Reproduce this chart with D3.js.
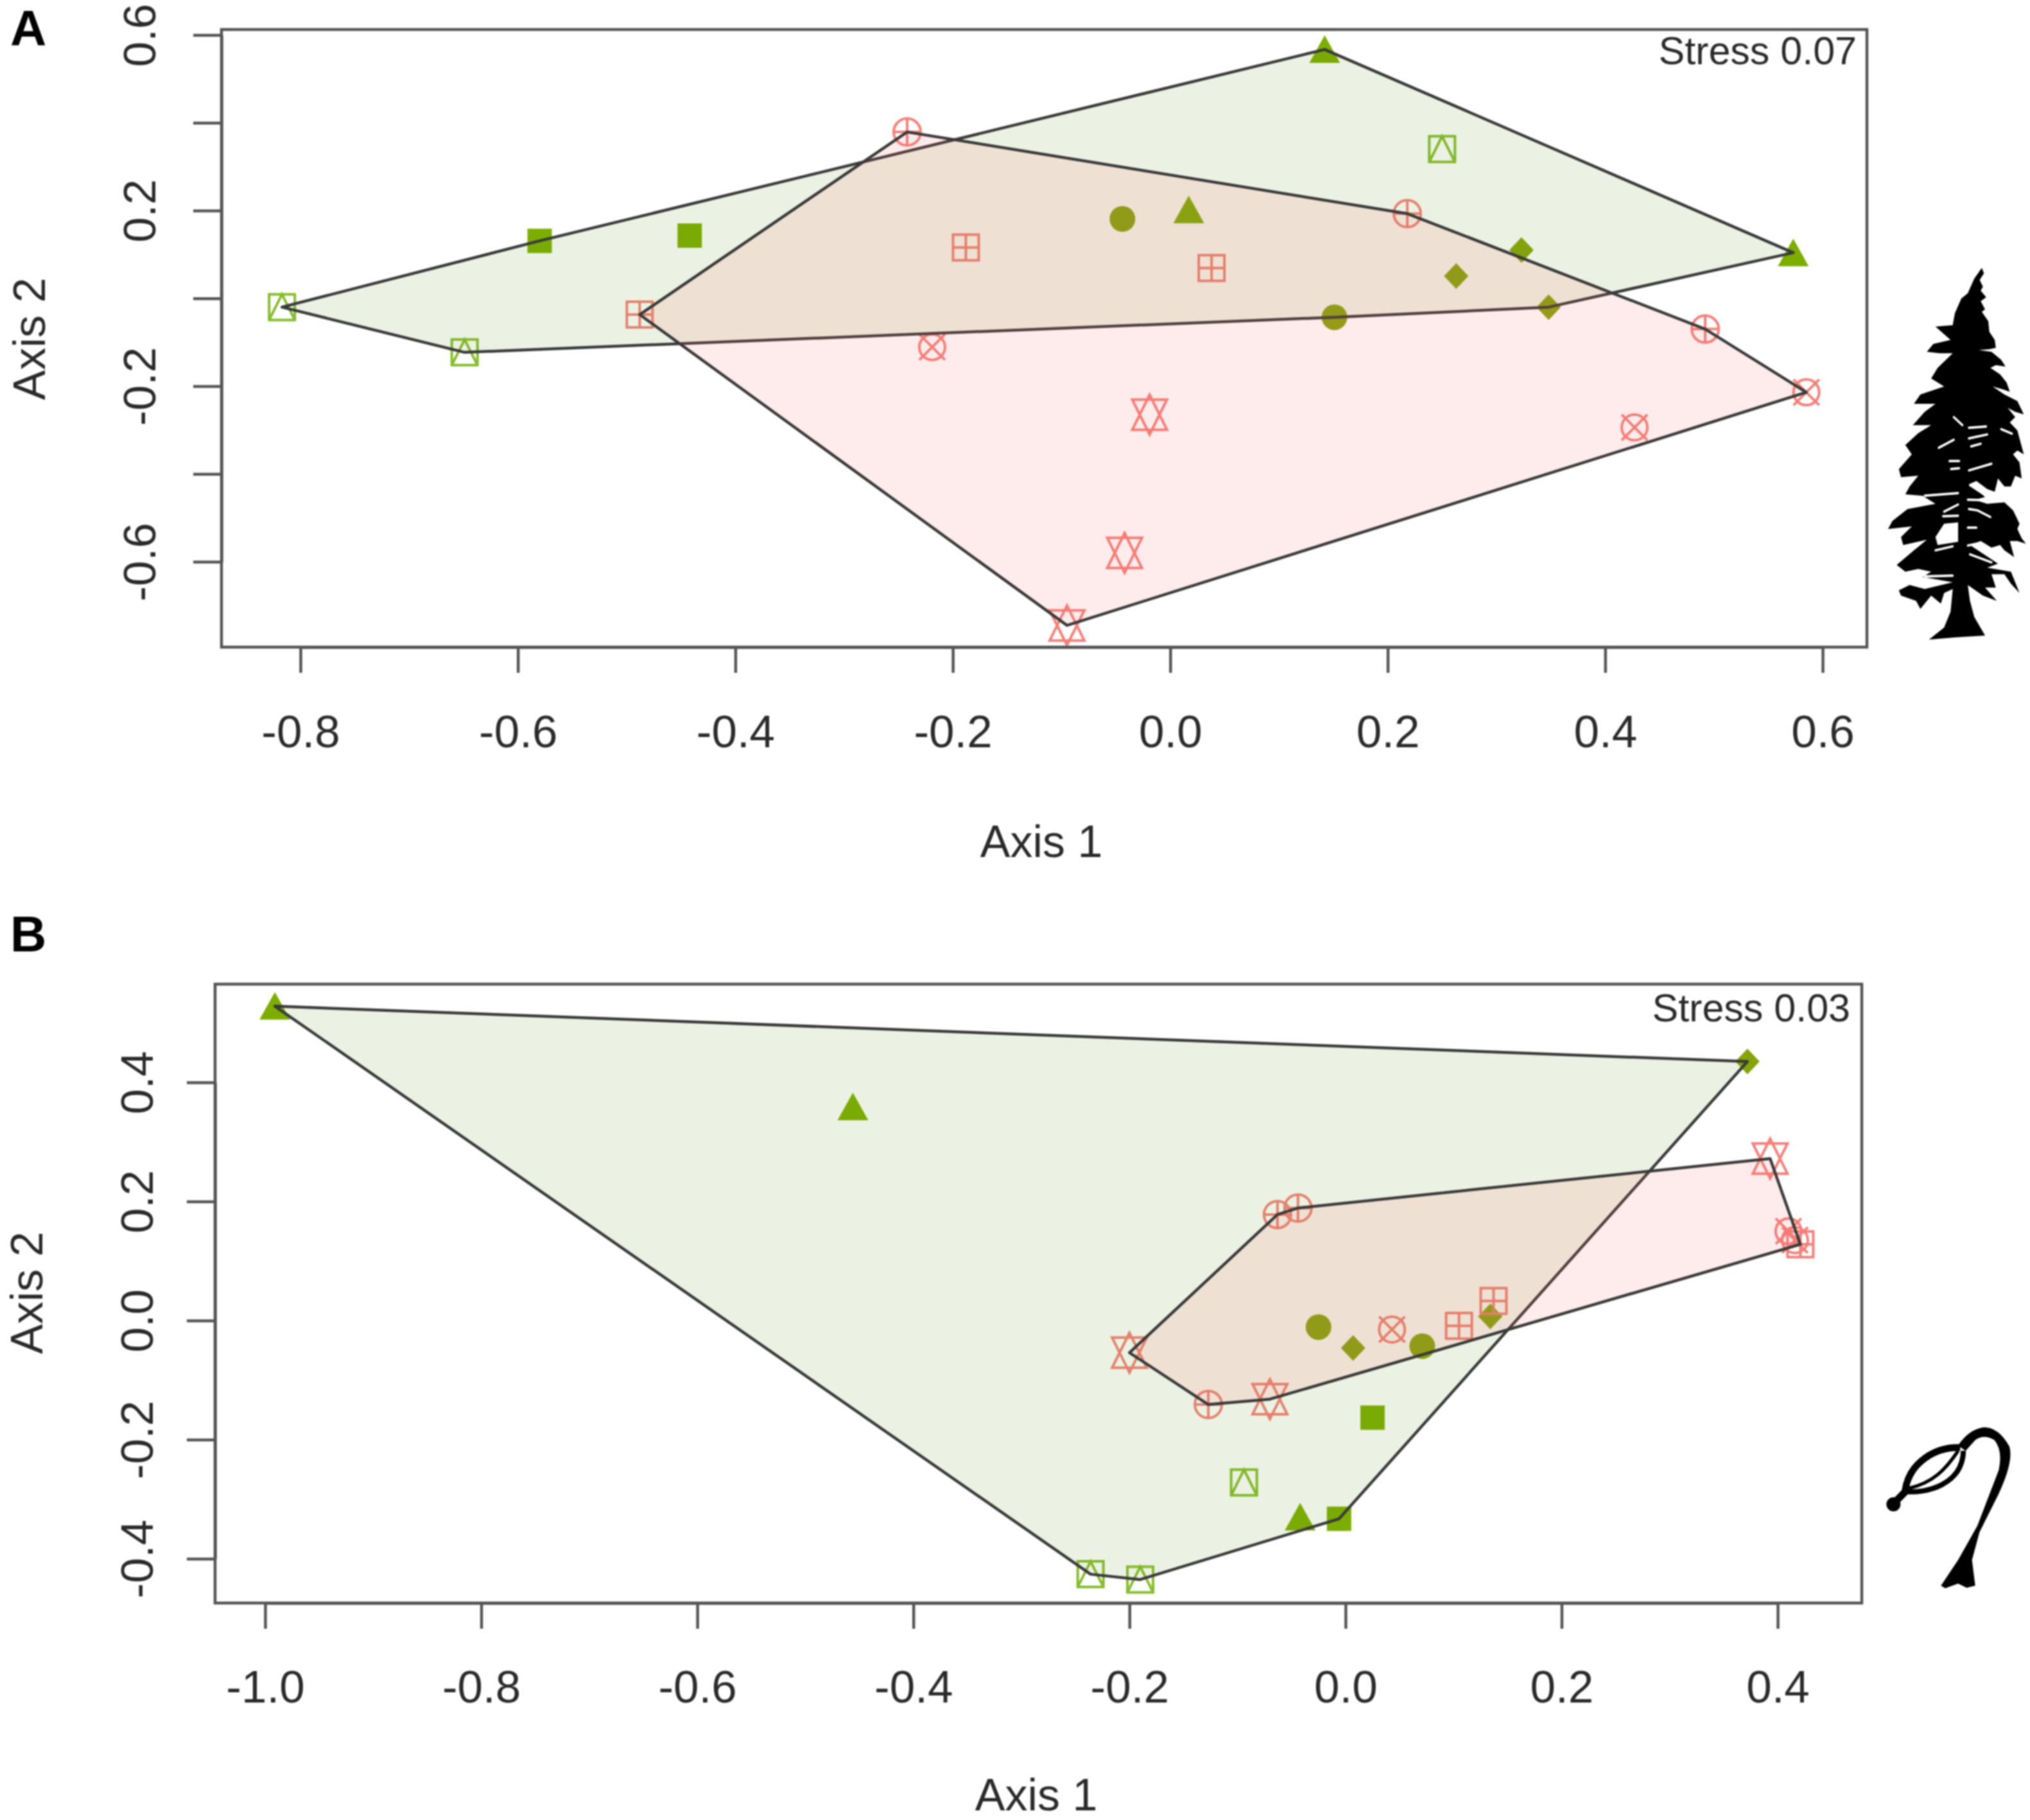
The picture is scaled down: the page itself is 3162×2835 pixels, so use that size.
<!DOCTYPE html>
<html>
<head>
<meta charset="utf-8">
<script src="https://d3js.org/d3.v7.min.js"></script>
<title>NMDS ordinations</title>
<style>
  body { margin: 0; background: #fff; }
  svg { filter: blur(0.8px); }
  text { font-family: "Liberation Sans", Arial, sans-serif; fill: #2a2a2a; }
</style>
</head>
<body>
<svg width="3162" height="2835"></svg>
<script>
// values, [axis 1, axis 2]
var aTriangle = [[0.142, 0.567], [0.017, 0.202], [0.573, 0.104]];
var aSquare = [[-0.580, 0.131], [-0.442, 0.143]];
var aCircle = [[-0.044, 0.181], [0.151, -0.043]];
var aDiamond = [[0.323, 0.110], [0.263, 0.051], [0.348, -0.020]];
var aBoxTriangle = [[0.250, 0.340], [-0.817, -0.020], [-0.649, -0.123]];
var aCirclePlus = [[-0.242, 0.379], [0.218, 0.193], [0.492, -0.070]];
var aBoxPlus = [[-0.188, 0.116], [0.038, 0.069], [-0.488, -0.037]];
var aCircleCross = [[-0.219, -0.111], [0.427, -0.294], [0.585, -0.214]];
var aStar = [[-0.019, -0.265], [-0.042, -0.580], [-0.095, -0.745]];

var bTriangle = [[-0.991, 0.528], [-0.456, 0.359], [-0.042, -0.330]];
var bSquare = [[0.025, -0.163], [-0.006, -0.333]];
var bCircle = [[-0.025, -0.011], [0.071, -0.043]];
var bDiamond = [[0.372, 0.435], [0.007, -0.046], [0.134, 0.007]];
var bBoxTriangle = [[-0.094, -0.272], [-0.236, -0.426], [-0.190, -0.435]];
var bCirclePlus = [[-0.063, 0.178], [-0.044, 0.189], [-0.127, -0.141]];
var bBoxPlus = [[0.105, -0.009], [0.137, 0.033], [0.421, 0.128]];
var bCircleCross = [[0.043, -0.015], [0.410, 0.150], [0.416, 0.135]];
var bStar = [[0.393, 0.272], [-0.200, -0.054], [-0.070, -0.132]];

var xTicksA = [-0.8, -0.6, -0.4, -0.2, 0, 0.2, 0.4, 0.6];
var yTicksA = [-0.6, -0.4, -0.2, 0, 0.2, 0.4, 0.6];
var yLabelsA = [-0.6, -0.2, 0.2, 0.6];
var xTicksB = [-1, -0.8, -0.6, -0.4, -0.2, 0, 0.2, 0.4];
var yTicksB = [-0.4, -0.2, 0, 0.2, 0.4];

var green = '#7cae00', olive = '#87a30a', lightGreen = '#86bc2c', salmon = '#f47f78';
var greenHull = '#6c9b23', pinkHull = '#f86c6c';

var svg = d3.select('svg');

// symbol outlines centred on 0,0, like R's pch numbers
var shapes = {
  triangle: {d: 'M0,-22L24,21L-24,21Z', fill: green},
  square: {d: 'M-19,-19H19V19H-19Z', fill: green},
  circle: {d: circlePath(20), fill: olive},
  diamond: {d: 'M0,-20L19,0L0,20L-19,0Z', fill: olive},
  boxTriangle: {d: 'M-20,-20H20V20H-20ZM-20,20L0,-20L20,20', stroke: lightGreen},
  circlePlus: {d: circlePath(21) + 'M-21,0H21M0,-21V21', stroke: salmon},
  boxPlus: {d: 'M-20,-20H20V20H-20ZM-20,0H20M0,-20V20', stroke: salmon},
  circleCross: {d: circlePath(20) + 'M-20,-20L20,20M-20,20L20,-20', stroke: salmon},
  star: {d: 'M0,-31L27,23.5H-27ZM0,31L27,-23.5H-27Z', stroke: salmon}
};

function circlePath(r) {
  var p = d3.path();
  p.arc(0, 0, r, 0, 2 * Math.PI);
  p.closePath();
  return p.toString();
}

function drawPanel(o) {
  var x = d3.scaleLinear().domain(o.xDomain).range(o.xRange);
  var y = d3.scaleLinear().domain(o.yDomain).range(o.yRange);
  var g = svg.append('g');

  o.sets.forEach(function(s) {
    var shape = shapes[s[0]];
    g.selectAll(null).data(s[1]).enter().append('path')
      .attr('transform', d => `translate(${x(d[0])},${y(d[1])})`)
      .attr('d', shape.d)
      .attr('fill', shape.fill || 'none')
      .attr('stroke', shape.stroke || 'none')
      .attr('stroke-width', 4);
  });

  // hulls go over the points, as the line crosses them in the original
  o.hulls.forEach(function(h) {
    var pts = h.points.map(d => [x(d[0]), y(d[1])]);
    g.append('path')
      .attr('d', 'M' + d3.polygonHull(pts).join('L') + 'Z')
      .attr('fill', h.fill)
      .attr('fill-opacity', 0.13)
      .attr('stroke', '#3a3a3a')
      .attr('stroke-width', 4.5)
      .attr('stroke-linejoin', 'round');
  });

  g.append('rect')
    .attr('x', o.box.left).attr('y', o.box.top)
    .attr('width', o.box.right - o.box.left)
    .attr('height', o.box.bottom - o.box.top)
    .attr('fill', 'none').attr('stroke', '#555').attr('stroke-width', 4.5);

  var fmt = d => d.toFixed(1);
  var xAxis = g.append('g')
    .attr('transform', `translate(0,${o.box.bottom})`)
    .call(d3.axisBottom(x).tickValues(o.xTicks).tickFormat(fmt).tickSize(40).tickSizeOuter(0));
  var yAxis = g.append('g')
    .attr('transform', `translate(${o.box.left},0)`)
    .call(d3.axisLeft(y).tickValues(o.yTicks).tickSize(44).tickSizeOuter(0)
      .tickFormat(d => o.yLabels.indexOf(d) >= 0 ? fmt(d) : ''));
  [xAxis, yAxis].forEach(function(a) {
    a.selectAll('line').attr('stroke', '#555').attr('stroke-width', 4.5);
    a.select('.domain').attr('stroke', '#555').attr('stroke-width', 4.5);
    a.selectAll('text').style('font-size', '71px').attr('font-family', null);
  });
  xAxis.selectAll('text').attr('y', o.xLabelY - o.box.bottom).attr('dy', 0);
  yAxis.selectAll('text')
    .attr('x', 0).attr('y', 0).attr('dy', 0)
    .style('text-anchor', 'middle')
    .attr('transform', `translate(${o.yLabelX - o.box.left},0) rotate(-90)`);

  svg.append('text').attr('x', o.xTitle[0]).attr('y', o.xTitle[1])
    .style('font-size', '70px').style('text-anchor', 'middle').text('Axis 1');
  svg.append('text')
    .attr('transform', `translate(${o.yTitle[0]},${o.yTitle[1]}) rotate(-90)`)
    .style('font-size', '70px').style('text-anchor', 'middle').text('Axis 2');
  svg.append('text').attr('x', o.stress[0]).attr('y', o.stress[1])
    .style('font-size', '61px').style('text-anchor', 'end').text(o.stressText);
  svg.append('text').attr('x', 16).attr('y', o.letterY)
    .style('font-size', '78px').style('font-weight', 'bold').style('fill', '#000').text(o.letter);
}

drawPanel({
  letter: 'A', letterY: 71,
  stressText: 'Stress 0.07', stress: [2892, 100],
  box: {left: 345, right: 2908, top: 46, bottom: 1008},
  xDomain: [-0.8, 0.6], xRange: [468, 2839],
  yDomain: [-0.6, 0.6], yRange: [875, 54.5],
  xTicks: xTicksA, yTicks: yTicksA, yLabels: yLabelsA,
  xLabelY: 1164, yLabelX: 242,
  xTitle: [1622, 1335], yTitle: [70, 528],
  sets: [['triangle', aTriangle], ['square', aSquare], ['circle', aCircle], ['diamond', aDiamond],
    ['boxTriangle', aBoxTriangle], ['circlePlus', aCirclePlus], ['boxPlus', aBoxPlus],
    ['circleCross', aCircleCross], ['star', aStar]],
  hulls: [
    {fill: greenHull, points: [].concat(aTriangle, aSquare, aCircle, aDiamond, aBoxTriangle)},
    {fill: pinkHull, points: [].concat(aCirclePlus, aBoxPlus, aCircleCross, aStar)}
  ]
});

drawPanel({
  letter: 'B', letterY: 1482,
  stressText: 'Stress 0.03', stress: [2882, 1591],
  box: {left: 335, right: 2900, top: 1533, bottom: 2497},
  xDomain: [-1, 0.4], xRange: [413, 2769],
  yDomain: [-0.4, 0.4], yRange: [2428, 1686],
  xTicks: xTicksB, yTicks: yTicksB, yLabels: yTicksB,
  xLabelY: 2652, yLabelX: 238,
  xTitle: [1614, 2820], yTitle: [66, 2014],
  sets: [['triangle', bTriangle], ['square', bSquare], ['circle', bCircle], ['diamond', bDiamond],
    ['boxTriangle', bBoxTriangle], ['circlePlus', bCirclePlus], ['boxPlus', bBoxPlus],
    ['circleCross', bCircleCross], ['star', bStar]],
  hulls: [
    {fill: greenHull, points: [].concat(bTriangle, bSquare, bCircle, bDiamond, bBoxTriangle)},
    {fill: pinkHull, points: [].concat(bCirclePlus, bBoxPlus, bCircleCross, bStar)}
  ]
});

// tree silhouette
var tree = svg.append('g').attr('transform', 'translate(2800,380) scale(0.3356,0.415)');
tree.append('path').attr('fill', '#000').attr('d', 'M855,90L865,110L845,135L860,160L850,175L875,200L850,215L870,245L855,255L885,290L890,330L915,360L920,390L890,395L840,398L900,405L945,435L965,460L920,455L895,465L940,490L970,520L985,555L950,545L905,535L960,565L1020,590L1050,640L1010,630L975,615L1010,650L985,670L1020,700L1040,760L1050,790L1020,775L1000,790L1030,820L1040,880L1010,870L990,910L960,910L930,880L915,930L880,920L830,890L800,900L870,950L820,960L880,975L960,970L1000,1000L1030,1050L1020,1070L1040,1105L1060,1125L1020,1115L985,1115L1005,1175L960,1150L940,1130L900,1140L850,1115L800,1130L930,1200L880,1215L990,1230L1030,1310L990,1275L960,1240L900,1240L920,1290L870,1290L925,1340L860,1320L790,1280L800,1340L820,1400L870,1470L760,1475L610,1485L680,1440L710,1380L720,1295L680,1310L665,1350L620,1320L570,1370L550,1340L480,1320L470,1300L520,1280L590,1295L720,1270L580,1250L620,1230L560,1220L500,1230L460,1205L540,1150L600,1110L490,1130L480,1100L530,1060L420,1070L440,1040L510,995L640,975L580,945L500,940L520,910L560,870L480,875L470,845L530,790L500,755L560,710L620,680L535,680L590,630L640,600L540,600L570,565L680,535L620,505L650,465L720,410L660,410L600,405L630,375L710,360L640,310L720,305L730,260L760,205L790,185L820,130Z');
// gaps between the branches
var treeGaps = ['M725,650L765,680', 'M655,765L725,735', 'M795,690L875,685', 'M795,730L880,715', 'M805,760L850,750',
  'M945,695L995,712', 'M705,815L750,815', 'M795,850L900,825', 'M712,845L750,842', 'M590,945L745,935',
  'M680,1005L745,978', 'M675,1022L745,1020', 'M790,960L870,962', 'M795,995L835,1000L895,1025', 'M790,1065L830,1065',
  'M790,1132L850,1122', 'M800,905L885,950', 'M640,1150L720,1135', 'M590,1248L720,1245', 'M800,1165L900,1195'];
tree.selectAll(null).data(treeGaps).enter().append('path')
  .attr('d', d => d).attr('fill', 'none').attr('stroke', '#fff').attr('stroke-width', 9).attr('stroke-linecap', 'round');
tree.append('path').attr('fill', '#fff').attr('d', 'M650,1130L745,1118L745,1045L680,1050L640,1100Z');

// bud on its bent stalk
var bud = svg.append('g').attr('transform', 'translate(2850,2180) scale(0.3333)');
bud.append('path').attr('fill', '#000').attr('d', 'M520,870L600,750L690,590L790,330Q810,240 770,190Q720,160 680,190L635,240L600,215Q650,140 720,130Q790,130 840,220Q860,290 790,440L700,620L665,750L680,870L640,880L600,860L540,882Z');
var budLines = [['M610,225C500,220 370,290 352,430', 32], ['M352,430C450,440 620,400 625,240', 24],
  ['M600,240C540,330 480,390 370,415', 16]];
bud.selectAll(null).data(budLines).enter().append('path')
  .attr('d', d => d[0]).attr('fill', 'none').attr('stroke', '#000').attr('stroke-width', d => d[1]);
bud.append('path').attr('d', 'M300,485L352,432').attr('stroke', '#000').attr('stroke-width', 34);
bud.append('circle').attr('cx', 298).attr('cy', 490).attr('r', 33).attr('fill', '#000');
</script>
</body>
</html>
